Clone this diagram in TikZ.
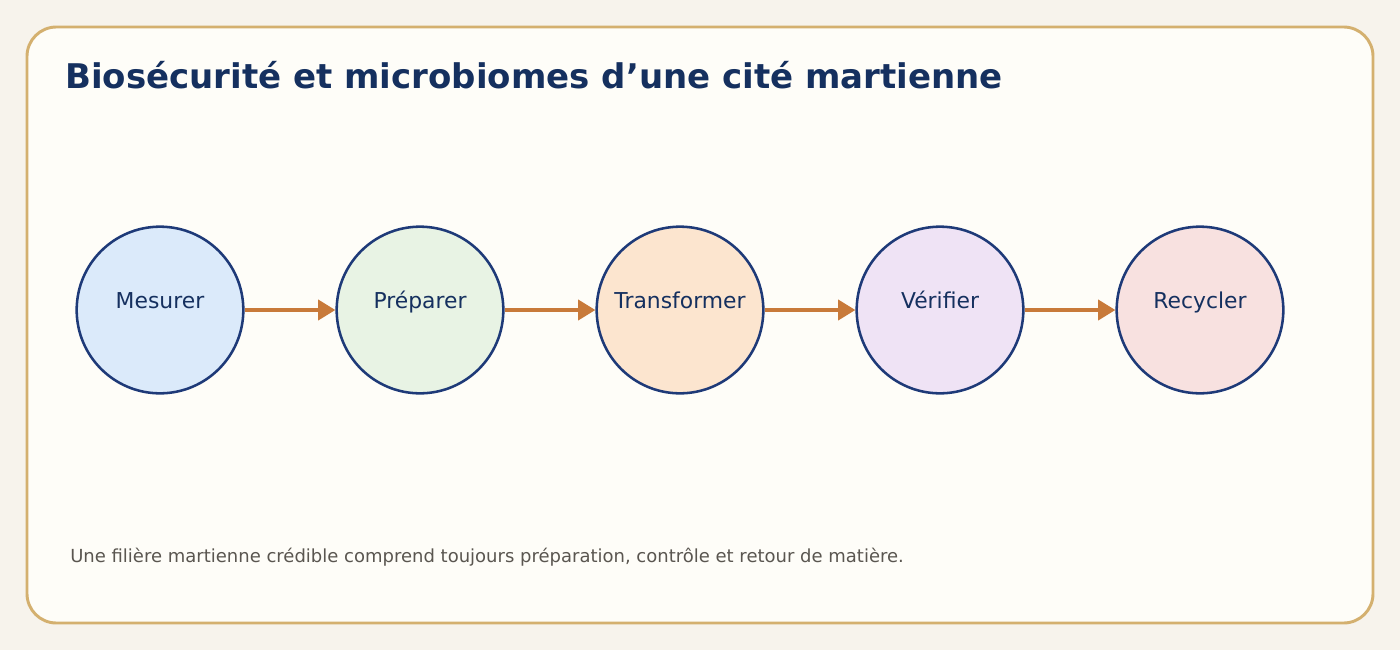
\documentclass[tikz,border=0pt]{standalone}
\usepackage{fontspec}
\setmainfont{DejaVu Sans}
\usetikzlibrary{arrows.meta}

\definecolor{pagebg}{HTML}{F7F3EC}
\definecolor{cardbg}{HTML}{FEFDF8}
\definecolor{cardline}{HTML}{D4B06F}
\definecolor{navy}{HTML}{15305F}
\definecolor{ringline}{HTML}{1E3A78}
\definecolor{flowcol}{HTML}{C87A3A}
\definecolor{notecol}{HTML}{5A5650}
\definecolor{fillA}{HTML}{DBEAFA}
\definecolor{fillB}{HTML}{E8F3E4}
\definecolor{fillC}{HTML}{FCE5CF}
\definecolor{fillD}{HTML}{EFE3F5}
\definecolor{fillE}{HTML}{F8E1E0}

\tikzset{
  stage/.style={circle, draw=ringline, line width=1.9pt, minimum size=125pt, inner sep=0pt},
  stagetext/.style={anchor=base, text=navy, font=\fontsize{16.4}{19}\selectfont},
  flow/.style={draw=flowcol, line width=3pt, -{Triangle[length=13pt,width=15pt]}},
}

\begin{document}
\begin{tikzpicture}[x=0.75pt,y=-0.75pt]
            % Background and card
            \fill[pagebg] (0,0) rectangle (1400,650);
            \useasboundingbox (0,0) rectangle (1400,650);
            \draw[cardline, fill=cardbg, line width=2.2pt, rounded corners=22pt] (27,27) rectangle (1373,623);

            % Title
            \node[anchor=base west, inner sep=0pt, text=navy, font=\fontsize{25.5}{30}\selectfont\bfseries] (title) at (65,88) {Biosécurité et microbiomes d’une cité martienne};

            % Stages
            \node[stage, fill=fillA] (mesurer) at (160,310) {};
            \node[stage, fill=fillB] (preparer) at (420,310) {};
            \node[stage, fill=fillC] (transformer) at (680,310) {};
            \node[stage, fill=fillD] (verifier) at (940,310) {};
            \node[stage, fill=fillE] (recycler) at (1200,310) {};

            % Stage labels
            \node[stagetext] at (160,308) {Mesurer};
            \node[stagetext] at (420,308) {Préparer};
            \node[stagetext] at (680,308) {Transformer};
            \node[stagetext] at (940,308) {Vérifier};
            \node[stagetext] at (1200,308) {Recycler};

            % Arrows
            \draw[flow] (mesurer) -- (preparer);
            \draw[flow] (preparer) -- (transformer);
            \draw[flow] (transformer) -- (verifier);
            \draw[flow] (verifier) -- (recycler);

            % Note
            \node[anchor=base west, inner sep=0pt, text=notecol, font=\fontsize{13.5}{16}\selectfont] (note) at (70,562) {Une filière martienne crédible comprend toujours préparation, contrôle et retour de matière.};
        \end{tikzpicture}
\end{document}
